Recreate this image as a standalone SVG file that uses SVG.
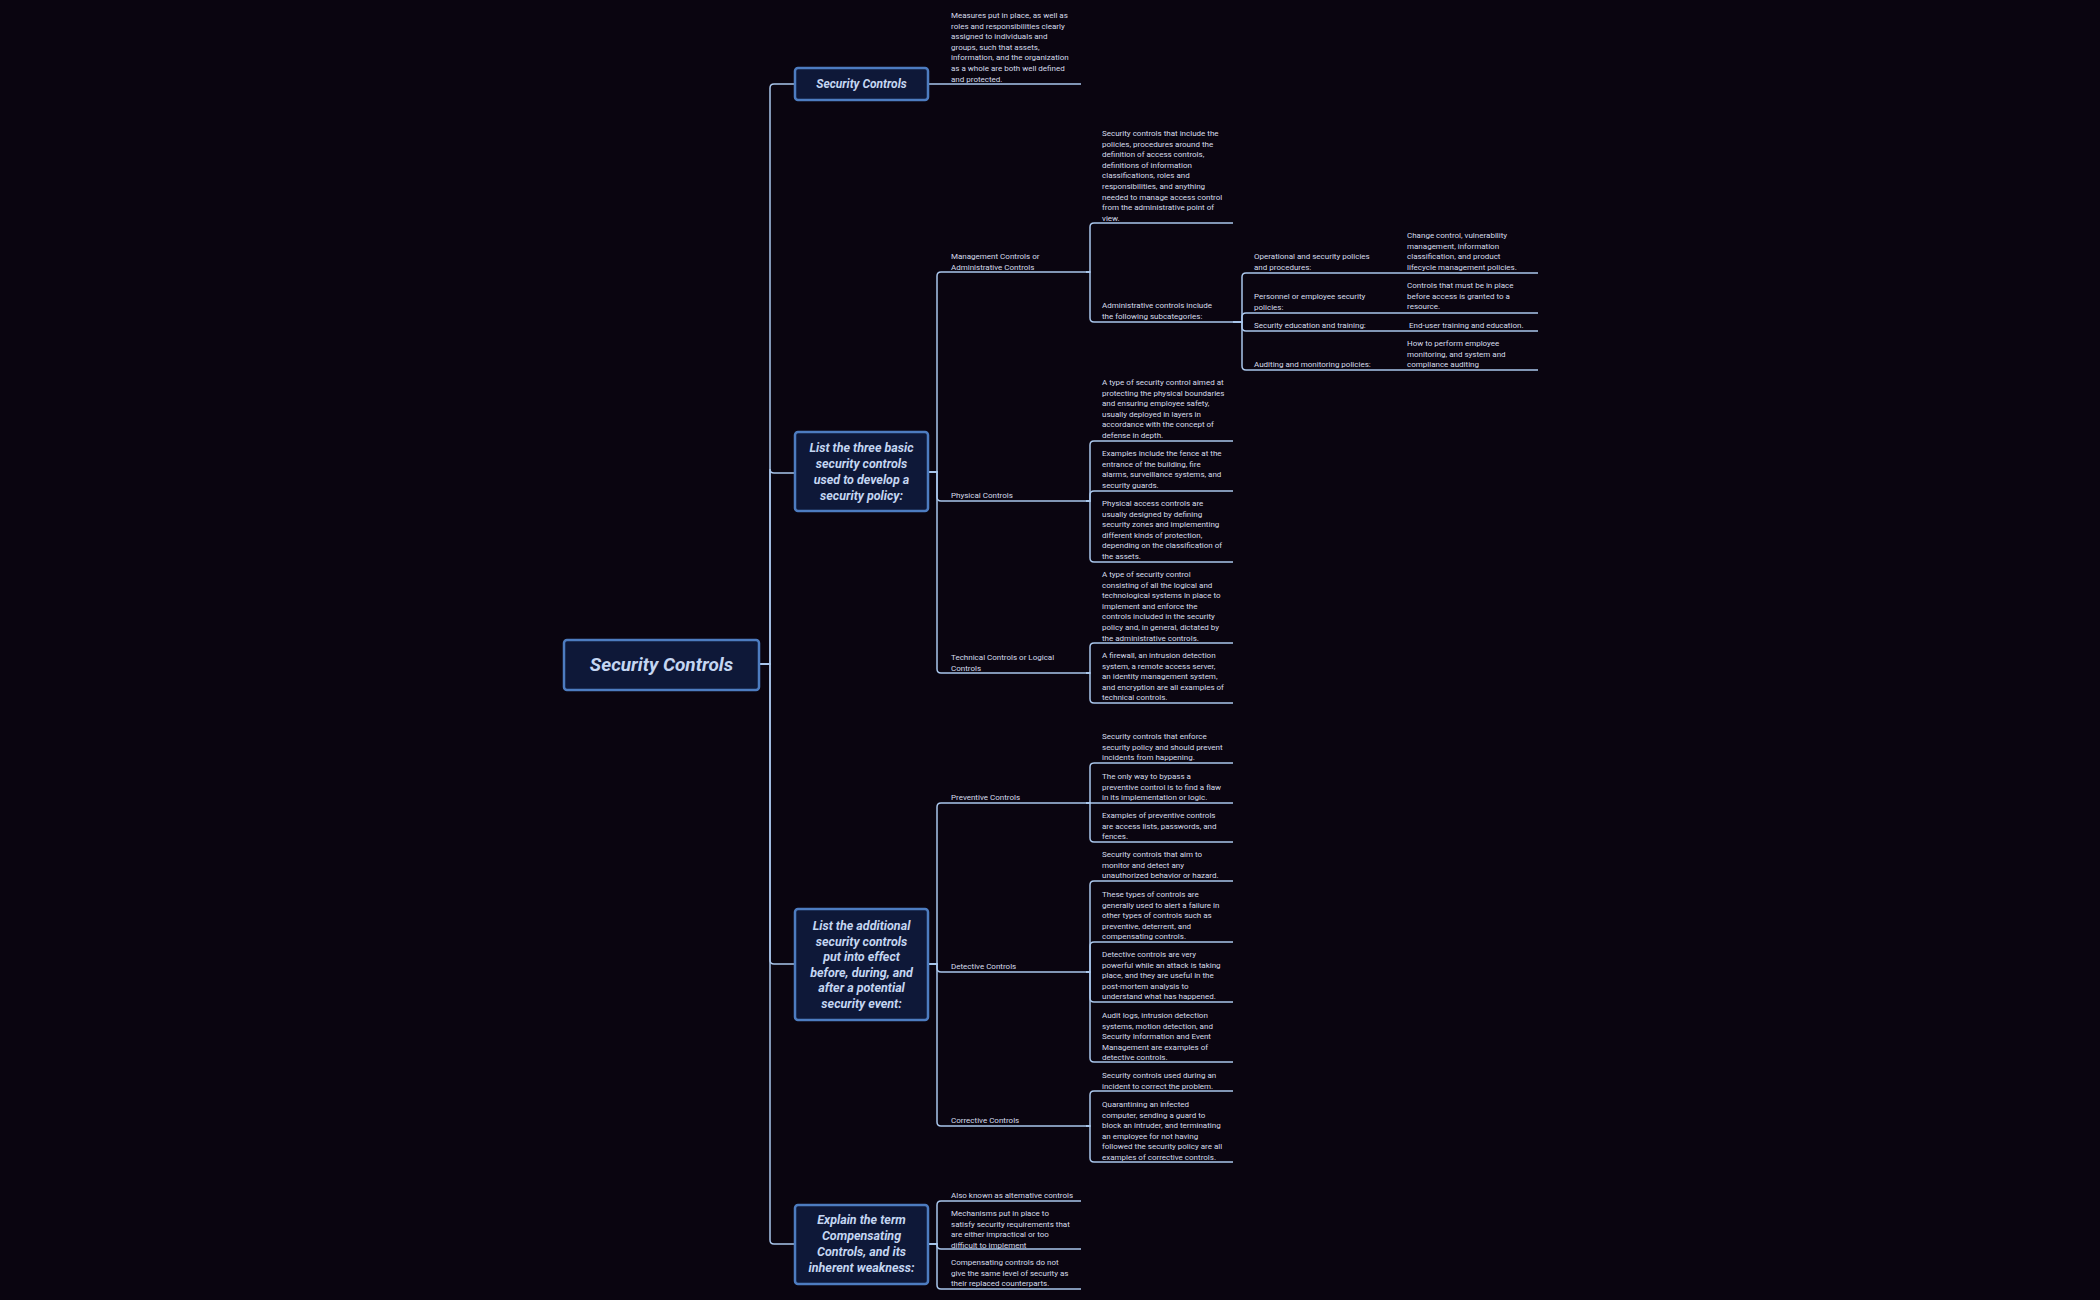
<svg xmlns="http://www.w3.org/2000/svg" width="2100" height="1300" viewBox="0 0 2100 1300">
<style>
.bg{fill:#0a0510}
.box{fill:#0e1838;stroke:#4d7cc0;stroke-width:2.5}
.bt{font-family:Roboto,"Liberation Sans",sans-serif;font-style:italic;font-weight:bold;fill:#c4d6f2;text-anchor:middle}
.t{font-family:Roboto,"Liberation Sans",sans-serif;font-size:8px;fill:#d6dceb}
.c path{fill:none;stroke:#a9c6ec;stroke-width:1.5}
</style>
<rect class="bg" width="2100" height="1300"/>
<g class="c" id="connectors">
<path d="M759 664 H770 V88 Q770 84 774 84 H795"/>
<path d="M759 664 H770 V469 Q770 473 774 473 H795"/>
<path d="M759 664 H770 V960 Q770 964 774 964 H795"/>
<path d="M759 664 H770 V1240 Q770 1244 774 1244 H795"/>
<path d="M928 84 H1081"/>
<path d="M928 472 H937 V276 Q937 272 941 272 H1090"/>
<path d="M928 472 H937 V497 Q937 501 941 501 H1090"/>
<path d="M928 472 H937 V669 Q937 673 941 673 H1090"/>
<path d="M1086 272 H1090 V227 Q1090 223 1094 223 H1233"/>
<path d="M1086 272 H1090 V318 Q1090 322 1094 322 H1233"/>
<path d="M1233 322 H1242 V277 Q1242 273 1246 273 H1538"/>
<path d="M1233 322 H1242 V317 Q1242 313 1246 313 H1538"/>
<path d="M1233 322 H1242 V327 Q1242 331 1246 331 H1538"/>
<path d="M1233 322 H1242 V366 Q1242 370 1246 370 H1538"/>
<path d="M1086 501 H1090 V445 Q1090 441 1094 441 H1233"/>
<path d="M1086 501 H1090 V495 Q1090 491 1094 491 H1233"/>
<path d="M1086 501 H1090 V558 Q1090 562 1094 562 H1233"/>
<path d="M1086 673 H1090 V647 Q1090 643 1094 643 H1233"/>
<path d="M1086 673 H1090 V699 Q1090 703 1094 703 H1233"/>
<path d="M928 964 H937 V807 Q937 803 941 803 H1090"/>
<path d="M928 964 H937 V968 Q937 972 941 972 H1090"/>
<path d="M928 964 H937 V1122 Q937 1126 941 1126 H1090"/>
<path d="M1086 803 H1090 V767 Q1090 763 1094 763 H1233"/>
<path d="M1086 803 H1233"/>
<path d="M1086 803 H1090 V838 Q1090 842 1094 842 H1233"/>
<path d="M1086 972 H1090 V885 Q1090 881 1094 881 H1233"/>
<path d="M1086 972 H1090 V946 Q1090 942 1094 942 H1233"/>
<path d="M1086 972 H1090 V998 Q1090 1002 1094 1002 H1233"/>
<path d="M1086 972 H1090 V1058 Q1090 1062 1094 1062 H1233"/>
<path d="M1086 1126 H1090 V1095 Q1090 1091 1094 1091 H1233"/>
<path d="M1086 1126 H1090 V1158 Q1090 1162 1094 1162 H1233"/>
<path d="M928 1244 H937 V1205 Q937 1201 941 1201 H1081"/>
<path d="M928 1244 H937 V1245 Q937 1249 941 1249 H1081"/>
<path d="M928 1244 H937 V1285 Q937 1289 941 1289 H1081"/>
</g>
<g id="root"><rect class="box" x="564" y="640" width="195" height="50" rx="3"/><text class="bt" x="661.5" y="671" font-size="19">Security Controls</text></g>
<g id="n-sc"><rect class="box" x="795" y="68" width="133" height="32" rx="3"/><text class="bt" x="861.5" y="88" font-size="12">Security Controls</text></g>
<g id="n-three"><rect class="box" x="795" y="432" width="133" height="79" rx="3"/><text class="bt" font-size="12.5"><tspan x="861.5" y="452">List the three basic</tspan><tspan x="861.5" dy="16">security controls</tspan><tspan x="861.5" dy="16">used to develop a</tspan><tspan x="861.5" dy="16">security policy:</tspan></text></g>
<g id="n-add"><rect class="box" x="795" y="909" width="133" height="111" rx="3"/><text class="bt" font-size="12.5"><tspan x="861.5" y="930">List the additional</tspan><tspan x="861.5" dy="15.6">security controls</tspan><tspan x="861.5" dy="15.6">put into effect</tspan><tspan x="861.5" dy="15.6">before, during, and</tspan><tspan x="861.5" dy="15.6">after a potential</tspan><tspan x="861.5" dy="15.6">security event:</tspan></text></g>
<g id="n-comp"><rect class="box" x="795" y="1205" width="133" height="79" rx="3"/><text class="bt" font-size="12.5"><tspan x="861.5" y="1224">Explain the term</tspan><tspan x="861.5" dy="16">Compensating</tspan><tspan x="861.5" dy="16">Controls, and its</tspan><tspan x="861.5" dy="16">inherent weakness:</tspan></text></g>
<g id="t-sc"><text class="t"><tspan x="951" y="18">Measures put in place, as well as</tspan><tspan x="951" dy="10.6">roles and responsibilities clearly</tspan><tspan x="951" dy="10.6">assigned to individuals and</tspan><tspan x="951" dy="10.6">groups, such that assets,</tspan><tspan x="951" dy="10.6">information, and the organization</tspan><tspan x="951" dy="10.6">as a whole are both well defined</tspan><tspan x="951" dy="10.6">and protected.</tspan></text></g>
<g id="l-mgmt"><text class="t"><tspan x="951" y="259">Management Controls or</tspan><tspan x="951" dy="10.6">Administrative Controls</tspan></text></g>
<g id="l-mgmt1"><text class="t"><tspan x="1102" y="136">Security controls that include the</tspan><tspan x="1102" dy="10.6">policies, procedures around the</tspan><tspan x="1102" dy="10.6">definition of access controls,</tspan><tspan x="1102" dy="10.6">definitions of information</tspan><tspan x="1102" dy="10.6">classifications, roles and</tspan><tspan x="1102" dy="10.6">responsibilities, and anything</tspan><tspan x="1102" dy="10.6">needed to manage access control</tspan><tspan x="1102" dy="10.6">from the administrative point of</tspan><tspan x="1102" dy="10.6">view.</tspan></text></g>
<g id="l-admin"><text class="t"><tspan x="1102" y="308">Administrative controls include</tspan><tspan x="1102" dy="10.6">the following subcategories:</tspan></text></g>
<g id="s-op"><text class="t"><tspan x="1254" y="259">Operational and security policies</tspan><tspan x="1254" dy="10.6">and procedures:</tspan></text><text class="t"><tspan x="1407" y="238">Change control, vulnerability</tspan><tspan x="1407" dy="10.6">management, information</tspan><tspan x="1407" dy="10.6">classification, and product</tspan><tspan x="1407" dy="10.6">lifecycle management policies.</tspan></text></g>
<g id="s-pers"><text class="t"><tspan x="1254" y="299">Personnel or employee security</tspan><tspan x="1254" dy="10.6">policies:</tspan></text><text class="t"><tspan x="1407" y="288">Controls that must be in place</tspan><tspan x="1407" dy="10.6">before access is granted to a</tspan><tspan x="1407" dy="10.6">resource.</tspan></text></g>
<g id="s-edu"><text class="t" x="1254" y="328">Security education and training:</text><text class="t" x="1409" y="328">End-user training and education.</text></g>
<g id="s-aud"><text class="t" x="1254" y="367">Auditing and monitoring policies:</text><text class="t"><tspan x="1407" y="346">How to perform employee</tspan><tspan x="1407" dy="10.6">monitoring, and system and</tspan><tspan x="1407" dy="10.6">compliance auditing</tspan></text></g>
<g id="l-phys"><text class="t" x="951" y="498">Physical Controls</text></g>
<g id="p1"><text class="t"><tspan x="1102" y="385">A type of security control aimed at</tspan><tspan x="1102" dy="10.6">protecting the physical boundaries</tspan><tspan x="1102" dy="10.6">and ensuring employee safety,</tspan><tspan x="1102" dy="10.6">usually deployed in layers in</tspan><tspan x="1102" dy="10.6">accordance with the concept of</tspan><tspan x="1102" dy="10.6">defense in depth.</tspan></text></g>
<g id="p2"><text class="t"><tspan x="1102" y="456">Examples include the fence at the</tspan><tspan x="1102" dy="10.6">entrance of the building, fire</tspan><tspan x="1102" dy="10.6">alarms, surveillance systems, and</tspan><tspan x="1102" dy="10.6">security guards.</tspan></text></g>
<g id="p3"><text class="t"><tspan x="1102" y="506">Physical access controls are</tspan><tspan x="1102" dy="10.6">usually designed by defining</tspan><tspan x="1102" dy="10.6">security zones and implementing</tspan><tspan x="1102" dy="10.6">different kinds of protection,</tspan><tspan x="1102" dy="10.6">depending on the classification of</tspan><tspan x="1102" dy="10.6">the assets.</tspan></text></g>
<g id="l-tech"><text class="t"><tspan x="951" y="660">Technical Controls or Logical</tspan><tspan x="951" dy="10.6">Controls</tspan></text></g>
<g id="te1"><text class="t"><tspan x="1102" y="577">A type of security control</tspan><tspan x="1102" dy="10.6">consisting of all the logical and</tspan><tspan x="1102" dy="10.6">technological systems in place to</tspan><tspan x="1102" dy="10.6">implement and enforce the</tspan><tspan x="1102" dy="10.6">controls included in the security</tspan><tspan x="1102" dy="10.6">policy and, in general, dictated by</tspan><tspan x="1102" dy="10.6">the administrative controls.</tspan></text></g>
<g id="te2"><text class="t"><tspan x="1102" y="658">A firewall, an intrusion detection</tspan><tspan x="1102" dy="10.6">system, a remote access server,</tspan><tspan x="1102" dy="10.6">an identity management system,</tspan><tspan x="1102" dy="10.6">and encryption are all examples of</tspan><tspan x="1102" dy="10.6">technical controls.</tspan></text></g>
<g id="l-prev"><text class="t" x="951" y="800">Preventive Controls</text></g>
<g id="pr1"><text class="t"><tspan x="1102" y="739">Security controls that enforce</tspan><tspan x="1102" dy="10.6">security policy and should prevent</tspan><tspan x="1102" dy="10.6">incidents from happening.</tspan></text></g>
<g id="pr2"><text class="t"><tspan x="1102" y="779">The only way to bypass a</tspan><tspan x="1102" dy="10.6">preventive control is to find a flaw</tspan><tspan x="1102" dy="10.6">in its implementation or logic.</tspan></text></g>
<g id="pr3"><text class="t"><tspan x="1102" y="818">Examples of preventive controls</tspan><tspan x="1102" dy="10.6">are access lists, passwords, and</tspan><tspan x="1102" dy="10.6">fences.</tspan></text></g>
<g id="l-det"><text class="t" x="951" y="969">Detective Controls</text></g>
<g id="d1"><text class="t"><tspan x="1102" y="857">Security controls that aim to</tspan><tspan x="1102" dy="10.6">monitor and detect any</tspan><tspan x="1102" dy="10.6">unauthorized behavior or hazard.</tspan></text></g>
<g id="d2"><text class="t"><tspan x="1102" y="897">These types of controls are</tspan><tspan x="1102" dy="10.6">generally used to alert a failure in</tspan><tspan x="1102" dy="10.6">other types of controls such as</tspan><tspan x="1102" dy="10.6">preventive, deterrent, and</tspan><tspan x="1102" dy="10.6">compensating controls.</tspan></text></g>
<g id="d3"><text class="t"><tspan x="1102" y="957">Detective controls are very</tspan><tspan x="1102" dy="10.6">powerful while an attack is taking</tspan><tspan x="1102" dy="10.6">place, and they are useful in the</tspan><tspan x="1102" dy="10.6">post-mortem analysis to</tspan><tspan x="1102" dy="10.6">understand what has happened.</tspan></text></g>
<g id="d4"><text class="t"><tspan x="1102" y="1018">Audit logs, intrusion detection</tspan><tspan x="1102" dy="10.6">systems, motion detection, and</tspan><tspan x="1102" dy="10.6">Security Information and Event</tspan><tspan x="1102" dy="10.6">Management are examples of</tspan><tspan x="1102" dy="10.6">detective controls.</tspan></text></g>
<g id="l-corr"><text class="t" x="951" y="1123">Corrective Controls</text></g>
<g id="c1"><text class="t"><tspan x="1102" y="1078">Security controls used during an</tspan><tspan x="1102" dy="10.6">incident to correct the problem.</tspan></text></g>
<g id="c2"><text class="t"><tspan x="1102" y="1107">Quarantining an infected</tspan><tspan x="1102" dy="10.6">computer, sending a guard to</tspan><tspan x="1102" dy="10.6">block an intruder, and terminating</tspan><tspan x="1102" dy="10.6">an employee for not having</tspan><tspan x="1102" dy="10.6">followed the security policy are all</tspan><tspan x="1102" dy="10.6">examples of corrective controls.</tspan></text></g>
<g id="e1"><text class="t" x="951" y="1198">Also known as alternative controls</text></g>
<g id="e2"><text class="t"><tspan x="951" y="1216">Mechanisms put in place to</tspan><tspan x="951" dy="10.6">satisfy security requirements that</tspan><tspan x="951" dy="10.6">are either impractical or too</tspan><tspan x="951" dy="10.6">difficult to implement</tspan></text></g>
<g id="e3"><text class="t"><tspan x="951" y="1265">Compensating controls do not</tspan><tspan x="951" dy="10.6">give the same level of security as</tspan><tspan x="951" dy="10.6">their replaced counterparts.</tspan></text></g>
</svg>
